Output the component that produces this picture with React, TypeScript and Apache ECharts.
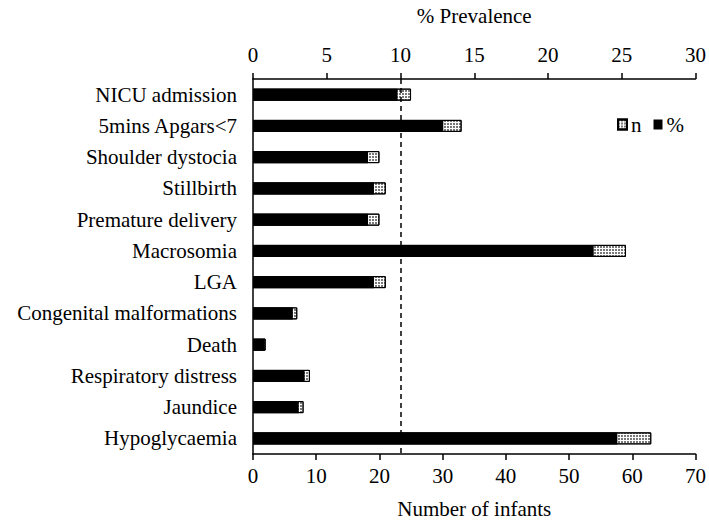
import React, { useEffect, useRef } from "react";
import * as echarts from "echarts";

const categories = [
  "NICU admission",
  "5mins Apgars<7",
  "Shoulder dystocia",
  "Stillbirth",
  "Premature delivery",
  "Macrosomia",
  "LGA",
  "Congenital malformations",
  "Death",
  "Respiratory distress",
  "Jaundice",
  "Hypoglycaemia",
];
const countN = [25, 33, 20, 21, 20, 59, 21, 7, 2, 9, 8, 63];
const percentP = [9.8, 12.9, 7.8, 8.2, 7.8, 23.1, 8.2, 2.7, 0.8, 3.5, 3.1, 24.7];
const bottomTicks = { min: 0, max: 70, interval: 10 };
const topTicks = { min: 0, max: 30, interval: 5 };
const referenceLine = 10;

const FONT = "'Liberation Serif', 'Times New Roman', serif";
const FS = 21;

export default function App() {
  const ref = useRef<HTMLDivElement>(null);
  useEffect(() => {
    if (!ref.current) return;
    const chart = echarts.init(ref.current, undefined, { renderer: "svg" });
    const axisLine = { show: true, lineStyle: { color: "#000", width: 1.5 } };
    chart.setOption({
      animation: false,
      backgroundColor: "#fff",
      textStyle: { fontFamily: FONT, color: "#000" },
      grid: { left: 253, right: 13, top: 75, bottom: 65, containLabel: false },
      legend: {
        data: ["n", "%"],
        left: 612,
        top: 109,
        icon: "rect",
        itemWidth: 9,
        itemHeight: 10,
        itemGap: 12,
        textStyle: { fontFamily: FONT, fontSize: FS, color: "#000", padding: [0, 0, 0, -1] },
      },
      xAxis: [
        {
          type: "value",
          position: "bottom",
          min: bottomTicks.min,
          max: bottomTicks.max,
          interval: bottomTicks.interval,
          axisLine,
          axisTick: { show: true, length: 6, lineStyle: { color: "#000", width: 1.5 } },
          splitLine: { show: false },
          axisLabel: { fontFamily: FONT, fontSize: FS, color: "#000", margin: 11 },
          name: "Number of infants",
          nameLocation: "middle",
          nameGap: 44,
          nameTextStyle: { fontFamily: FONT, fontSize: FS, color: "#000" },
        },
        {
          type: "value",
          position: "top",
          min: topTicks.min,
          max: topTicks.max,
          interval: topTicks.interval,
          axisLine,
          axisTick: { show: true, length: 6, lineStyle: { color: "#000", width: 1.5 } },
          splitLine: { show: false },
          axisLabel: { fontFamily: FONT, fontSize: FS, color: "#000", margin: 14 },
          name: "% Prevalence",
          nameLocation: "middle",
          nameGap: 53,
          nameTextStyle: { fontFamily: FONT, fontSize: FS, color: "#000" },
        },
      ],
      yAxis: {
        type: "category",
        data: categories,
        inverse: true,
        axisLine,
        axisTick: { show: false },
        axisLabel: { fontFamily: FONT, fontSize: FS, color: "#000", margin: 16 },
      },
      series: [
        {
          name: "n",
          type: "bar",
          xAxisIndex: 0,
          data: countN,
          barWidth: 12,
          itemStyle: {
            color: "#fff",
            borderColor: "#000",
            borderWidth: 1,
            decal: {
              symbol: "rect",
              symbolSize: 0.7,
              color: "#000",
              backgroundColor: "#fff",
              dashArrayX: [2, 1],
              dashArrayY: [2, 1],
              rotation: 0,
            },
          },
        },
        {
          name: "%",
          type: "bar",
          xAxisIndex: 1,
          data: percentP,
          barWidth: 12,
          barGap: "-100%",
          itemStyle: { color: "#000" },
          markLine: {
            silent: true,
            symbol: "none",
            label: { show: false },
            lineStyle: { color: "#000", type: [5, 4], width: 1.5 },
            data: [{ xAxis: referenceLine }],
          },
        },
      ],
    });
    return () => chart.dispose();
  }, []);
  return (
    <div
      ref={ref}
      style={{ position: "fixed", left: 0, top: 0, width: 709, height: 524, background: "#fff" }}
    />
  );
}
